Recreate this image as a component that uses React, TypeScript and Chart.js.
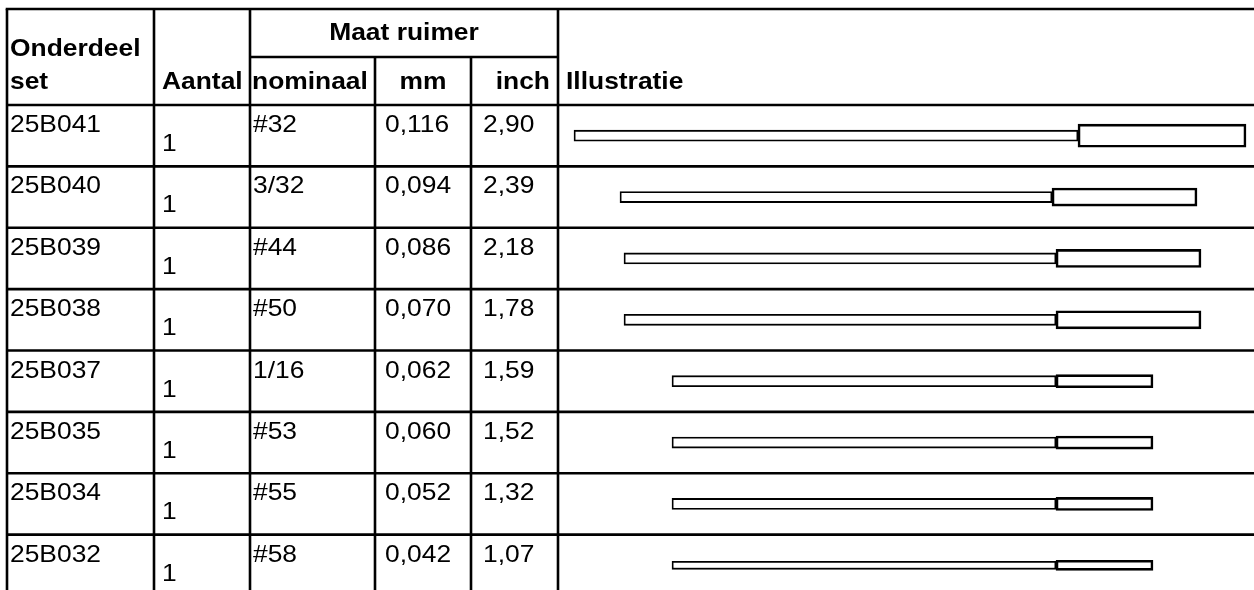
import React, { useEffect, useRef } from 'react';
import { Chart, registerables } from 'chart.js';

Chart.register(...registerables);

// ---- table data ----
const partNumbers = ['25B041', '25B040', '25B039', '25B038', '25B037', '25B035', '25B034', '25B032'];
const quantities = ['1', '1', '1', '1', '1', '1', '1', '1'];
const nominalSizes = ['#32', '3/32', '#44', '#50', '1/16', '#53', '#55', '#58'];
const mmValues = ['0,116', '0,094', '0,086', '0,070', '0,062', '0,060', '0,052', '0,042'];
const inchValues = ['2,90', '2,39', '2,18', '1,78', '1,59', '1,52', '1,32', '1,07'];

// ---- illustration (reamer drawing) data, in drawing units ----
const shaftStart = [16, 62, 66, 66, 114, 114, 114, 114];
const shaftEnd = [520, 494, 498, 498, 498, 498, 498, 498];
const handleEnd = [688, 639, 643, 643, 595, 595, 595, 595];
const shaftThickness = [11, 11, 11, 11, 11, 11, 11, 8];
const handleThickness = [23, 18, 18, 18, 13, 13, 13, 10];

const headerTop = 'Maat ruimer';
const headerCols = ['Onderdeel', 'set', 'Aantal', 'nominaal', 'mm', 'inch', 'Illustratie'];

const W = 1254;
const H = 596;
const COLS = [7, 154, 250, 375, 471, 558];
const TOP = 9;
const MID = 57;
const HEAD_BOTTOM = 105;
const FONT = '"Liberation Sans", Arial, Helvetica, sans-serif';
const SX = 1.1;

const tablePlugin = {
  id: 'tableGrid',
  beforeDatasetsDraw(chart: any) {
    const ctx = chart.ctx as CanvasRenderingContext2D;
    const y = chart.scales.y;
    const n = partNumbers.length;
    const step = n > 1 ? y.getPixelForValue(1) - y.getPixelForValue(0) : 60;
    const rowTop = (i: number) => y.getPixelForValue(i) - step / 2;

    ctx.save();
    ctx.strokeStyle = '#000';
    ctx.lineWidth = 2.6;
    const line = (x1: number, y1: number, x2: number, y2: number) => {
      ctx.beginPath();
      ctx.moveTo(x1, y1);
      ctx.lineTo(x2, y2);
      ctx.stroke();
    };
    // horizontal lines
    line(COLS[0] - 1.3, TOP, W, TOP);
    line(COLS[2], MID, COLS[5], MID);
    line(COLS[0], HEAD_BOTTOM, W, HEAD_BOTTOM);
    for (let i = 1; i < n; i++) line(COLS[0], rowTop(i), W, rowTop(i));
    // vertical lines
    line(COLS[0], TOP, COLS[0], H);
    line(COLS[1], TOP, COLS[1], H);
    line(COLS[2], TOP, COLS[2], H);
    line(COLS[3], MID, COLS[3], H);
    line(COLS[4], MID, COLS[4], H);
    line(COLS[5], TOP, COLS[5], H);

    const text = (s: string, x: number, yy: number, align: 'left' | 'center' | 'right', sx = SX) => {
      const w = ctx.measureText(s).width * sx;
      const left = align === 'left' ? x : align === 'center' ? x - w / 2 : x - w;
      ctx.save();
      ctx.translate(left, yy);
      ctx.scale(sx, 1);
      ctx.textAlign = 'left';
      ctx.fillText(s, 0, 0);
      ctx.restore();
    };

    // header text
    ctx.fillStyle = '#000';
    ctx.textBaseline = 'alphabetic';
    ctx.font = `bold 24px ${FONT}`;
    text(headerCols[0], 10, 56, 'left');
    text(headerCols[1], 10, 89, 'left');
    text(headerCols[2], 162, 89, 'left');
    text(headerCols[3], 252, 89, 'left', 1.1);
    text(headerTop, (COLS[2] + COLS[5]) / 2, 40, 'center');
    text(headerCols[4], (COLS[3] + COLS[4]) / 2, 89, 'center');
    text(headerCols[5], 550, 89, 'right');
    text(headerCols[6], 566, 89, 'left');

    // body text
    ctx.font = `24px ${FONT}`;
    for (let i = 0; i < n; i++) {
      const t = rowTop(i);
      text(partNumbers[i], 10, t + 27, 'left');
      text(quantities[i], 162, t + 46, 'left');
      text(nominalSizes[i], 253, t + 27, 'left');
      text(mmValues[i], 385, t + 27, 'left');
      text(inchValues[i], 483, t + 27, 'left');
    }
    ctx.restore();
  },
};

export default function App() {
  const ref = useRef<HTMLCanvasElement | null>(null);

  useEffect(() => {
    if (!ref.current) return;
    const labels = partNumbers;
    const datasets: any[] = [];
    labels.forEach((_, i) => {
      datasets.push({
        label: `schacht ${labels[i]}`,
        data: labels.map((__, j) => (j === i ? [shaftStart[i], shaftEnd[i]] : null)),
        barThickness: shaftThickness[i],
        grouped: false,
        order: 2,
        backgroundColor: '#ffffff',
        borderColor: '#000000',
        borderWidth: 1.8,
        borderSkipped: false,
      });
      datasets.push({
        label: `ruimer ${labels[i]}`,
        data: labels.map((__, j) => (j === i ? [shaftEnd[i], handleEnd[i]] : null)),
        barThickness: handleThickness[i],
        grouped: false,
        order: 1,
        backgroundColor: '#ffffff',
        borderColor: '#000000',
        borderWidth: 2.6,
        borderSkipped: false,
      });
    });

    const chart = new Chart(ref.current, {
      type: 'bar',
      data: { labels, datasets },
      options: {
        indexAxis: 'y',
        responsive: false,
        animation: false,
        devicePixelRatio: 1,
        layout: { padding: { left: COLS[5], right: 0, top: HEAD_BOTTOM, bottom: 0 } },
        plugins: { legend: { display: false }, tooltip: { enabled: false }, title: { display: false } },
        scales: {
          x: { type: 'linear', min: 0, max: W - COLS[5], display: false },
          y: { type: 'category', display: false, offset: true },
        },
      },
      plugins: [tablePlugin],
    } as any);
    return () => chart.destroy();
  }, []);

  return (
    <div
      style={{
        position: 'absolute',
        left: 0,
        top: 0,
        width: W,
        height: 590,
        overflow: 'hidden',
        background: '#fff',
      }}
    >
      <canvas ref={ref} width={W} height={H} style={{ display: 'block', width: W, height: H }} />
    </div>
  );
}
